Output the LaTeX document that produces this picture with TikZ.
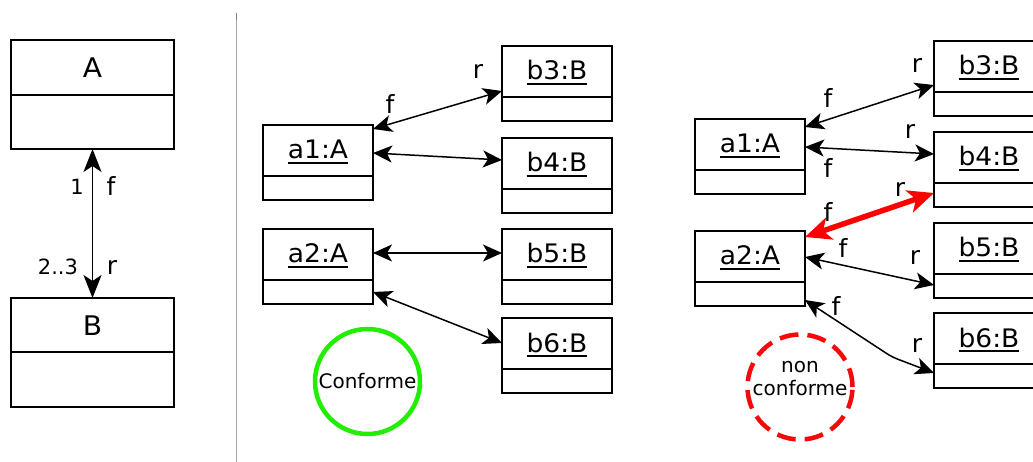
\documentclass[tikz,border=0pt]{standalone}
\usepackage{fontspec}
\setmainfont{DejaVu Sans}
\newfontfamily\boxfont[FakeStretch=1.04]{DejaVu Sans}
\usetikzlibrary{arrows.meta,calc}
\definecolor{okgreen}{RGB}{34,238,0}
\definecolor{nokred}{RGB}{245,10,10}
\newcommand\ulname[1]{\setbox0\hbox{#1}\rlap{\copy0}\rule[-5pt]{\wd0}{1.6pt}}
\newcommand\objbox[4]{%
  \node[objframe] (#1) at (#2,#3) {};
  \draw[boxline] ($(#1.north west)+(0,51)$) -- ($(#1.north east)+(0,51)$);
  \node[objtitle] (#1t) at ($(#1.north)+(0,34)$) {\ulname{#4}};
}
\tikzset{
  boxline/.style={line width=1.4pt},
  objframe/.style={draw, line width=1.4pt, anchor=north west, minimum width=110pt, minimum height=75pt, inner sep=0pt, outer sep=0pt},
  classframe/.style={draw, line width=1.4pt, anchor=north west, minimum width=163pt, minimum height=109pt, inner sep=0pt, outer sep=0pt},
  objtitle/.style={anchor=base, inner sep=0pt, font=\boxfont\fontsize{25.5}{25.5}\selectfont},
  classtitle/.style={anchor=base, inner sep=0pt, font=\boxfont\fontsize{27}{27}\selectfont},
  lbl/.style={inner sep=0pt, font=\fontsize{25}{25}\selectfont},
  numlbl/.style={inner sep=0pt, font=\fontsize{21}{21}\selectfont},
  assoc/.style={line width=1.5pt, {Stealth[length=19pt,width=17pt,inset=5pt]}-{Stealth[length=19pt,width=17pt,inset=5pt]}},
  bigassoc/.style={line width=1.8pt, {Stealth[length=23pt,width=18pt,inset=6pt]}-{Stealth[length=23pt,width=18pt,inset=6pt]}},
  redassoc/.style={draw=red, line width=5.5pt, {Stealth[length=26pt,width=23pt,inset=7pt]}-{Stealth[length=26pt,width=23pt,inset=7pt]}},
}
\begin{document}
\begin{tikzpicture}[x=1pt,y=-1pt]
\useasboundingbox (0,0) rectangle (1033,462);
\fill[white] (0,0) rectangle (1033,462);
\clip (0,0) rectangle (1033,462);

% ---------- left panel: class diagram ----------
\node[classframe] (A) at (11,40) {};
\draw[boxline] ($(A.north west)+(0,55)$) -- ($(A.north east)+(0,55)$);
\node[classtitle] (At) at ($(A.north)+(0,38)$) {A};
\node[classframe] (B) at (11,298) {};
\draw[boxline] ($(B.north west)+(0,54)$) -- ($(B.north east)+(0,54)$);
\node[classtitle] (Bt) at ($(B.north)+(0,37)$) {B};
\draw[bigassoc] (A.south) -- (B.north);
\node[numlbl] (m1) at (77,187) {1};
\node[lbl] (lf) at (111,186) {f};
\node[numlbl] (m23) at (58,267) {2..3};
\node[lbl] (lr) at (112,267) {r};

% separator
\draw[gray!70, line width=1pt] (236,13) -- (236,462);
\draw[gray, line width=1pt] (236,13) -- (236,20);

% ---------- middle panel: conforme ----------
\objbox{ma1}{263}{125}{a1:A}
\objbox{mb3}{502}{46}{b3:B}
\objbox{mb4}{502}{138}{b4:B}
\objbox{ma2}{263}{229}{a2:A}
\objbox{mb5}{502}{229}{b5:B}
\objbox{mb6}{502}{318}{b6:B}

\draw[assoc] ($(ma1.north east)+(0,4)$) -- ($(mb3.north west)+(0,45)$);
\draw[assoc] ($(ma1.north east)+(0,28)$) -- ($(mb4.north west)+(0,22)$);
\draw[assoc] ($(ma2.north east)+(0,24)$) -- ($(mb5.north west)+(0,24)$);
\draw[assoc] ($(ma2.north east)+(0,63)$) -- ($(mb6.north west)+(0,25)$);
\node[lbl] (mf) at (390,104) {f};
\node[lbl] (mr) at (478,72) {r};

\node[draw=okgreen, line width=4.5pt, circle, minimum size=105pt, inner sep=0pt, font=\fontsize{20}{20}\selectfont] (ok) at (367.5,381.5) {Conforme};

% ---------- right panel: non conforme ----------
\objbox{ra1}{695}{119}{a1:A}
\objbox{rb3}{934}{41}{b3:B}
\objbox{rb4}{934}{132}{b4:B}
\objbox{ra2}{695}{231}{a2:A}
\objbox{rb5}{934}{223}{b5:B}
\objbox{rb6}{934}{313}{b6:B}

\draw[assoc] ($(ra1.north east)+(0,8)$) -- ($(rb3.north west)+(0,44)$);
\draw[assoc] ($(ra1.north east)+(0,28)$) -- ($(rb4.north west)+(0,22)$);
\draw[redassoc] ($(ra2.north east)+(0,6)$) -- ($(rb4.north west)+(0,61)$);
\draw[assoc] ($(ra2.north east)+(0,26)$) -- ($(rb5.north west)+(0,62)$);
\coordinate (bend6) at (892,357);
\draw[assoc, rounded corners=6pt] ($(ra2.north east)+(0,69)$) -- (bend6) -- ($(rb6.north west)+(0,60)$);

\node[lbl] (rf1) at (828,98) {f};
\node[lbl] (rr1) at (917,66) {r};
\node[lbl] (rr2) at (910,132) {r};
\node[lbl] (rf2) at (828,168) {f};
\node[lbl] (rr3) at (900,190) {r};
\node[lbl] (rf3) at (828,212) {f};
\node[lbl] (rf4) at (843,248) {f};
\node[lbl] (rr4) at (915,257) {r};
\node[lbl] (rf5) at (836,306) {f};
\node[lbl] (rr5) at (917,345) {r};

\node[draw=nokred, line width=4.5pt, dash pattern=on 19pt off 9pt, circle, minimum size=105pt, inner sep=0pt] (nok) at (800,387) {};
\node[align=center, inner sep=0pt, font=\fontsize{20}{23}\selectfont] (nokt) at (800,379) {non\\conforme};
\end{tikzpicture}
\end{document}
